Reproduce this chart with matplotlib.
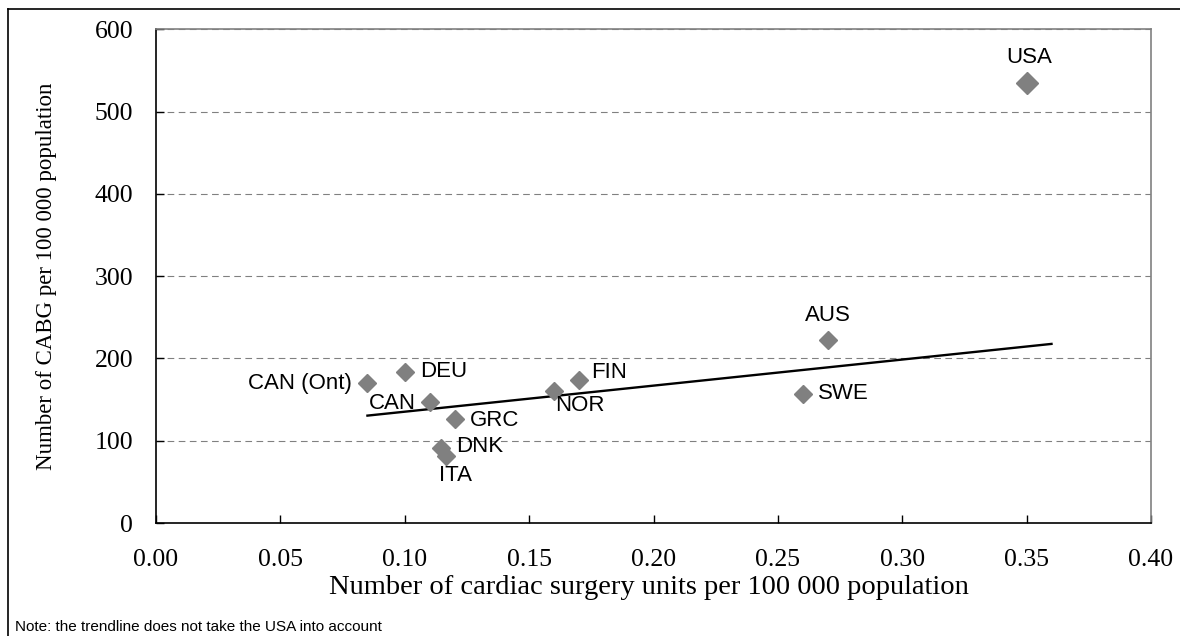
import matplotlib
matplotlib.use("Agg")
import matplotlib.pyplot as plt
import numpy as np

# Cardiac surgery units vs CABG, per 100 000 population
countries = ["USA", "AUS", "SWE", "FIN", "NOR", "CAN (Ont)", "DEU", "CAN", "GRC", "DNK", "ITA"]
units = [0.350, 0.270, 0.260, 0.170, 0.160, 0.085, 0.100, 0.110, 0.120, 0.1145, 0.1166]
cabg = [535, 222, 157, 174, 161, 170, 184, 147, 126, 91, 81]

# label offsets in points, and horizontal alignment
label_pos = {
    "USA": ((2, 18), "center"),
    "AUS": ((0, 18), "center"),
    "SWE": ((11, 0), "left"),
    "FIN": ((9, 5), "left"),
    "NOR": ((1, -11), "left"),
    "CAN (Ont)": ((-11, 0), "right"),
    "DEU": ((11, 0), "left"),
    "CAN": ((-10, -1), "right"),
    "GRC": ((11, -1), "left"),
    "DNK": ((11, 1), "left"),
    "ITA": ((7, -14), "center"),
}

serif = ["Liberation Serif", "DejaVu Serif"]
sans = ["Liberation Sans", "DejaVu Sans"]

fig = plt.figure(figsize=(11.8, 6.36), dpi=100)
ax = fig.add_axes([156 / 1180, 1 - 523 / 636, (1151 - 156) / 1180, (523 - 29.3) / 636])

# gridlines
for y in [100, 200, 300, 400, 500, 600]:
    ax.axhline(y, color="#808080", lw=0.8, ls=(0, (6, 4)), zorder=1)

# trendline fitted without the USA, forecast to 0.36
x_fit = np.array(units[1:])
y_fit = np.array(cabg[1:])
slope, intercept = np.polyfit(x_fit, y_fit, 1)
xs = np.array([x_fit.min(), 0.36])
ax.plot(xs, slope * xs + intercept, color="black", lw=1.7, zorder=2)

sizes = [11.2 if c == "USA" else 9.2 for c in countries]
for x, y, ms, name in zip(units, cabg, sizes, countries):
    ax.plot(x, y, marker="D", ms=ms, color="#808080", mec="#808080", ls="none", zorder=3)
    off, ha = label_pos[name]
    ax.annotate(name, (x, y), textcoords="offset points", xytext=off, ha=ha, va="center",
                fontsize=16, family=sans, zorder=4)

ax.set_xlim(0, 0.40)
ax.set_ylim(0, 600)
ax.set_xticks(np.arange(0, 0.401, 0.05))
ax.set_xticklabels([f"{v:.2f}" for v in np.arange(0, 0.401, 0.05)])
ax.set_yticks(np.arange(0, 601, 100))
ax.tick_params(axis="x", direction="in", length=6, pad=19, labelsize=18.5, width=1)
ax.tick_params(axis="y", direction="in", length=6, pad=16.5, labelsize=18.5, width=1)
for lab in ax.get_xticklabels() + ax.get_yticklabels():
    lab.set_family(serif)

for side in ["left", "bottom"]:
    ax.spines[side].set_color("black")
    ax.spines[side].set_linewidth(1.2)
for side in ["right", "top"]:
    ax.spines[side].set_color("#808080")
    ax.spines[side].set_linewidth(1.2)

ax.set_xlabel("Number of cardiac surgery units per 100 000 population", fontsize=20.5,
              family=serif)
ax.xaxis.set_label_coords((649 - 156) / 995, (523 - 575) / 494)
ax.set_ylabel("Number of CABG per 100 000 population", fontsize=16.5, family=serif)
ax.yaxis.set_label_coords((57 - 156) / 995, 0.5)

fig.text(15 / 1180, 1 - 627 / 636, "Note: the trendline does not take the USA into account",
         fontsize=11, family=sans, va="center", ha="left")

# outer frame (top and left edges)
fig.add_artist(plt.Line2D([8 / 1180, 1], [1 - 9 / 636, 1 - 9 / 636], color="black", lw=1.2,
                          transform=fig.transFigure))
fig.add_artist(plt.Line2D([8 / 1180, 8 / 1180], [0, 1 - 9 / 636], color="black", lw=1.2,
                          transform=fig.transFigure))

fig.savefig("out.png", dpi=100)
